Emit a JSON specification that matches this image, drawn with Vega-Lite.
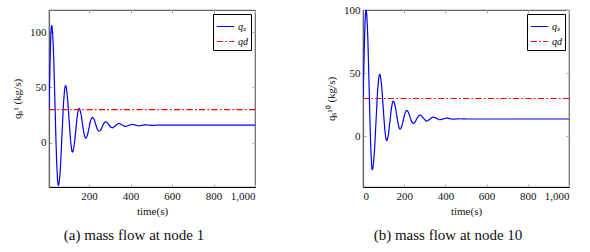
{
  "$schema": "https://vega.github.io/schema/vega-lite/v6.json",
  "padding": {"left": 10, "top": 3, "right": 5, "bottom": 5},
  "background": "white",
  "spacing": 108,
  "bounds": "flush",
  "datasets": {
    "n1": [
      {"t": 7, "q": 30, "series": "qₛ"}, {"t": 10, "q": 55, "series": "qₛ"}, {"t": 13, "q": 80, "series": "qₛ"}, {"t": 16, "q": 98, "series": "qₛ"},
      {"t": 20, "q": 106, "series": "qₛ"}, {"t": 28, "q": 85, "series": "qₛ"}, {"t": 36, "q": 33.8, "series": "qₛ"}, {"t": 44, "q": -17.4, "series": "qₛ"},
      {"t": 52, "q": -38.5, "series": "qₛ"}, {"t": 61, "q": -25.3, "series": "qₛ"}, {"t": 69.5, "q": 6.6, "series": "qₛ"}, {"t": 78, "q": 38.5, "series": "qₛ"},
      {"t": 87, "q": 51.7, "series": "qₛ"}, {"t": 95, "q": 42.9, "series": "qₛ"}, {"t": 103.5, "q": 21.7, "series": "qₛ"}, {"t": 112, "q": 0.4, "series": "qₛ"},
      {"t": 120, "q": -8.4, "series": "qₛ"}, {"t": 128, "q": -2.6, "series": "qₛ"}, {"t": 136, "q": 11.3, "series": "qₛ"}, {"t": 144, "q": 25.2, "series": "qₛ"},
      {"t": 152, "q": 31, "series": "qₛ"}, {"t": 160, "q": 27.1, "series": "qₛ"}, {"t": 168, "q": 17.6, "series": "qₛ"}, {"t": 176, "q": 8.1, "series": "qₛ"},
      {"t": 184, "q": 4.2, "series": "qₛ"}, {"t": 192, "q": 6.9, "series": "qₛ"}, {"t": 200, "q": 13.6, "series": "qₛ"}, {"t": 208, "q": 20.2, "series": "qₛ"},
      {"t": 216, "q": 22.9, "series": "qₛ"}, {"t": 224, "q": 21.1, "series": "qₛ"}, {"t": 232, "q": 16.7, "series": "qₛ"}, {"t": 240, "q": 12.3, "series": "qₛ"},
      {"t": 248, "q": 10.5, "series": "qₛ"}, {"t": 256, "q": 11.7, "series": "qₛ"}, {"t": 264, "q": 14.7, "series": "qₛ"}, {"t": 272, "q": 17.7, "series": "qₛ"},
      {"t": 280, "q": 18.9, "series": "qₛ"}, {"t": 288, "q": 18.1, "series": "qₛ"}, {"t": 296, "q": 16.2, "series": "qₛ"}, {"t": 304, "q": 14.3, "series": "qₛ"},
      {"t": 312, "q": 13.5, "series": "qₛ"}, {"t": 328, "q": 15.45, "series": "qₛ"}, {"t": 344, "q": 17.4, "series": "qₛ"}, {"t": 360, "q": 16.1, "series": "qₛ"},
      {"t": 376, "q": 14.8, "series": "qₛ"}, {"t": 392, "q": 15.7, "series": "qₛ"}, {"t": 408, "q": 16.6, "series": "qₛ"}, {"t": 424, "q": 15.95, "series": "qₛ"},
      {"t": 440, "q": 15.3, "series": "qₛ"}, {"t": 456, "q": 15.75, "series": "qₛ"}, {"t": 472, "q": 16.2, "series": "qₛ"}, {"t": 488, "q": 15.95, "series": "qₛ"},
      {"t": 504, "q": 15.7, "series": "qₛ"}, {"t": 536, "q": 16.0, "series": "qₛ"}, {"t": 570, "q": 15.9, "series": "qₛ"}, {"t": 1000, "q": 15.9, "series": "qₛ"},
      {"t": 7, "q": 30, "series": "qd"}, {"t": 1000, "q": 30, "series": "qd"}
    ],
    "n10": [
      {"t": 0, "q": 30, "series": "qₛ"}, {"t": 5, "q": 62, "series": "qₛ"}, {"t": 10, "q": 90, "series": "qₛ"}, {"t": 15, "q": 100, "series": "qₛ"},
      {"t": 22.5, "q": 81.6, "series": "qₛ"}, {"t": 30, "q": 36.9, "series": "qₛ"}, {"t": 37.5, "q": -7.8, "series": "qₛ"}, {"t": 45, "q": -26.2, "series": "qₛ"},
      {"t": 54, "q": -15.2, "series": "qₛ"}, {"t": 63, "q": 11.5, "series": "qₛ"}, {"t": 72, "q": 38.2, "series": "qₛ"}, {"t": 81, "q": 49.2, "series": "qₛ"},
      {"t": 89.5, "q": 41.5, "series": "qₛ"}, {"t": 98, "q": 23.0, "series": "qₛ"}, {"t": 106.5, "q": 4.5, "series": "qₛ"}, {"t": 115, "q": -3.2, "series": "qₛ"},
      {"t": 123, "q": 1.4, "series": "qₛ"}, {"t": 131, "q": 12.4, "series": "qₛ"}, {"t": 139, "q": 23.4, "series": "qₛ"}, {"t": 147, "q": 28, "series": "qₛ"},
      {"t": 155, "q": 24.8, "series": "qₛ"}, {"t": 163.5, "q": 16.9, "series": "qₛ"}, {"t": 172, "q": 9.0, "series": "qₛ"}, {"t": 180, "q": 5.8, "series": "qₛ"},
      {"t": 188, "q": 8.0, "series": "qₛ"}, {"t": 196, "q": 13.2, "series": "qₛ"}, {"t": 204, "q": 18.4, "series": "qₛ"}, {"t": 212, "q": 20.6, "series": "qₛ"},
      {"t": 220, "q": 19.1, "series": "qₛ"}, {"t": 228, "q": 15.5, "series": "qₛ"}, {"t": 236, "q": 11.8, "series": "qₛ"}, {"t": 244, "q": 10.3, "series": "qₛ"},
      {"t": 252, "q": 11.3, "series": "qₛ"}, {"t": 260.5, "q": 13.6, "series": "qₛ"}, {"t": 269, "q": 15.9, "series": "qₛ"}, {"t": 277, "q": 16.9, "series": "qₛ"},
      {"t": 293, "q": 14.5, "series": "qₛ"}, {"t": 309, "q": 12.1, "series": "qₛ"}, {"t": 325, "q": 13.7, "series": "qₛ"}, {"t": 341, "q": 15.3, "series": "qₛ"},
      {"t": 357, "q": 14.25, "series": "qₛ"}, {"t": 373, "q": 13.2, "series": "qₛ"}, {"t": 389, "q": 13.85, "series": "qₛ"}, {"t": 405, "q": 14.5, "series": "qₛ"},
      {"t": 421, "q": 14.05, "series": "qₛ"}, {"t": 437, "q": 13.6, "series": "qₛ"}, {"t": 453, "q": 13.8, "series": "qₛ"}, {"t": 469, "q": 14.0, "series": "qₛ"},
      {"t": 501, "q": 13.8, "series": "qₛ"}, {"t": 1000, "q": 13.8, "series": "qₛ"},
      {"t": 0, "q": 30, "series": "qd"}, {"t": 1000, "q": 30, "series": "qd"}
    ]
  },
  "hconcat": [
    {
      "width": 206,
      "height": 177,
      "title": {"text": "(a) mass flow at node 1"},
      "data": {"name": "n1"},
      "layer": [
        {
          "mark": {"type": "line", "interpolate": "monotone", "strokeWidth": 1.2, "clip": true},
          "encoding": {
            "x": {"field": "t", "type": "quantitative", "scale": {"domain": [7, 1000], "nice": false, "zero": false},
                  "axis": {"orient": "bottom", "title": "time(s)", "values": [200, 400, 600, 800, 1000], "format": ",d"}},
            "y": {"field": "q", "type": "quantitative", "scale": {"domain": [-40, 120], "nice": false, "zero": false},
                  "axis": {"orient": "left", "title": "qₛ¹ (kg/s)", "values": [0, 50, 100], "format": "d", "domainColor": "#666"}},
            "color": {"field": "series", "type": "nominal", "scale": {"domain": ["qₛ", "qd"]},
                      "legend": {"title": null, "encode": {"symbols": {"update": {"strokeDash": {"signal": "datum.value === 'qd' ? [6, 2.5, 1.5, 2.5] : [1, 0]"}}}}}},
            "strokeDash": {"field": "series", "type": "nominal", "scale": {"domain": ["qₛ", "qd"], "range": [[1, 0], [6, 2.5, 1.5, 2.5]]}, "legend": null}
          }
        },
        {
          "mark": {"type": "point", "opacity": 0},
          "encoding": {
            "x": {"field": "t", "type": "quantitative", "axis": {"orient": "top", "title": null, "labels": false, "domain": false, "values": [200, 400, 600, 800, 1000]}},
            "y": {"field": "q", "type": "quantitative", "axis": {"orient": "right", "title": null, "labels": false, "domain": false, "values": [0, 50, 100]}}
          }
        }
      ]
    },
    {
      "width": 206,
      "height": 177,
      "title": {"text": "(b) mass flow at node 10"},
      "data": {"name": "n10"},
      "layer": [
        {
          "mark": {"type": "line", "interpolate": "monotone", "strokeWidth": 1.2, "clip": true},
          "encoding": {
            "x": {"field": "t", "type": "quantitative", "scale": {"domain": [0, 1000], "nice": false, "zero": false},
                  "axis": {"orient": "bottom", "title": "time(s)", "values": [0, 200, 400, 600, 800, 1000], "format": ",d"}},
            "y": {"field": "q", "type": "quantitative", "scale": {"domain": [-40, 100], "nice": false, "zero": false},
                  "axis": {"orient": "left", "title": "qₛ¹⁰ (kg/s)", "values": [0, 50, 100], "format": "d", "domainColor": "#666"}},
            "color": {"field": "series", "type": "nominal", "scale": {"domain": ["qₛ", "qd"]},
                      "legend": {"title": null, "encode": {"symbols": {"update": {"strokeDash": {"signal": "datum.value === 'qd' ? [6, 2.5, 1.5, 2.5] : [1, 0]"}}}}}},
            "strokeDash": {"field": "series", "type": "nominal", "scale": {"domain": ["qₛ", "qd"], "range": [[1, 0], [6, 2.5, 1.5, 2.5]]}, "legend": null}
          }
        },
        {
          "mark": {"type": "point", "opacity": 0},
          "encoding": {
            "x": {"field": "t", "type": "quantitative", "axis": {"orient": "top", "title": null, "labels": false, "domain": false, "values": [0, 200, 400, 600, 800, 1000]}},
            "y": {"field": "q", "type": "quantitative", "axis": {"orient": "right", "title": null, "labels": false, "domain": false, "values": [0, 50, 100]}}
          }
        }
      ]
    }
  ],
  "resolve": {
    "scale": {"x": "independent", "y": "independent", "color": "shared", "strokeDash": "shared"},
    "legend": {"color": "independent"}
  },
  "config": {
    "font": "Liberation Serif",
    "view": {"stroke": "#666", "strokeWidth": 1.2},
    "range": {"category": ["#0000ff", "#ff0000"]},
    "axis": {
      "grid": false,
      "labelFontSize": 11,
      "labelColor": "#111",
      "titleFontSize": 11,
      "titleFontWeight": "normal",
      "titleColor": "#111",
      "tickSize": -3,
      "tickColor": "#aaa",
      "labelPadding": 6,
      "domainColor": "#000",
      "domainWidth": 1.2
    },
    "axisY": {"titlePadding": 7},
    "axisX": {"titlePadding": 4},
    "title": {"fontSize": 15, "fontWeight": "normal", "orient": "bottom", "offset": 12, "dx": -18, "color": "#111"},
    "legend": {
      "orient": "top-right",
      "offset": 4,
      "padding": 3,
      "strokeColor": "#000",
      "fillColor": "white",
      "labelFontSize": 10,
      "labelFontStyle": "italic",
      "symbolType": "stroke",
      "symbolSize": 300,
      "symbolStrokeWidth": 1.2,
      "rowPadding": 0,
      "labelOffset": 3
    }
  }
}
